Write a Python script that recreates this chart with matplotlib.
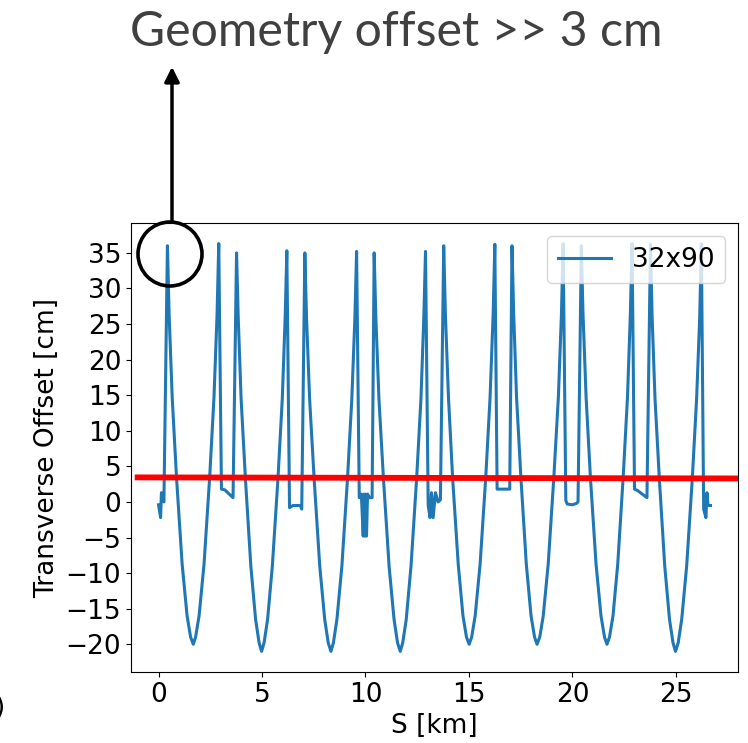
import numpy as np
import matplotlib
matplotlib.use('Agg')
import matplotlib.pyplot as plt
from matplotlib.patches import Ellipse

plt.rcParams['font.family'] = ['DejaVu Sans']

# transverse offset along the ring (S in km, offset in cm)
s_km = [0.00, 0.10, 0.14, 0.26,
        0.43, 0.51, 0.66, 0.87, 1.14, 1.38, 1.55, 1.68,
        1.79, 1.96, 2.20, 2.47, 2.68, 2.83, 2.91,
        3.04, 3.20, 3.60,
        3.77, 3.85, 3.99, 4.20, 4.46, 4.69, 4.86, 4.98,
        5.10, 5.27, 5.50, 5.77, 5.98, 6.12, 6.20,
        6.33, 6.50, 6.85, 6.92,
        7.07, 7.15, 7.30, 7.52, 7.79, 8.03, 8.20, 8.33,
        8.45, 8.62, 8.86, 9.13, 9.34, 9.49, 9.57,
        9.70, 9.80, 9.89, 9.93, 9.97, 10.01, 10.05, 10.10, 10.20, 10.32,
        10.42, 10.50, 10.65, 10.87, 11.14, 11.38, 11.55, 11.68,
        11.80, 11.97, 12.20, 12.47, 12.68, 12.82, 12.90,
        13.03, 13.12, 13.19, 13.27, 13.38, 13.51, 13.62,
        13.78, 13.86, 14.01, 14.21, 14.48, 14.71, 14.88, 15.01,
        15.13, 15.30, 15.54, 15.81, 16.02, 16.17, 16.25,
        16.36, 16.97,
        17.08, 17.16, 17.30, 17.51, 17.77, 18.00, 18.17, 18.29,
        18.42, 18.59, 18.83, 19.10, 19.32, 19.47, 19.55,
        19.68, 19.75, 20.00, 20.20, 20.27,
        20.43, 20.51, 20.66, 20.87, 21.14, 21.38, 21.55, 21.67,
        21.79, 21.96, 22.19, 22.45, 22.66, 22.80, 22.88,
        23.00, 23.15, 23.60,
        23.77, 23.85, 23.99, 24.20, 24.46, 24.69, 24.86, 24.98,
        25.11, 25.28, 25.52, 25.79, 26.00, 26.15, 26.23,
        26.34, 26.45, 26.50, 26.55, 26.67]
offset_cm = [-0.4, -2.2, 1.3, 0.0,
             36.0, 26.5, 14.7, 3.4, -8.7, -16.0, -19.0, -20.0,
             -19.0, -16.0, -8.7, 3.4, 14.7, 26.5, 36.3,
             1.8, 1.7, 0.6,
             35.0, 26.0, 14.5, 3.2, -9.0, -16.5, -19.8, -21.0,
             -19.8, -16.5, -9.0, 3.2, 14.5, 26.0, 35.3,
             -0.8, -0.5, -0.5, -1.0,
             35.0, 26.0, 14.5, 3.2, -9.0, -16.5, -19.8, -21.0,
             -19.8, -16.5, -9.0, 3.2, 14.5, 26.0, 35.2,
             0.6, 1.1, -4.8, 1.1, -4.8, 1.1, -4.8, 1.1, 0.6, 0.6,
             35.0, 26.0, 14.5, 3.2, -9.0, -16.5, -19.8, -21.0,
             -19.8, -16.5, -9.0, 3.2, 14.5, 26.0, 35.2,
             -0.5, -2.2, 1.3, -2.2, 1.3, 0.0, 0.3,
             36.0, 26.5, 14.7, 3.4, -8.7, -16.0, -19.0, -20.0,
             -19.0, -16.0, -8.7, 3.4, 14.7, 26.5, 36.2,
             1.8, 1.8,
             36.0, 26.5, 14.7, 3.4, -8.7, -16.0, -19.0, -20.0,
             -19.0, -16.0, -8.7, 3.4, 14.7, 26.5, 36.3,
             0.2, -0.3, -0.4, -0.2, 0.0,
             36.0, 26.5, 14.7, 3.4, -8.7, -16.0, -19.0, -20.0,
             -19.0, -16.0, -8.7, 3.4, 14.7, 26.5, 36.3,
             1.8, 1.6, 0.6,
             36.2, 26.0, 14.5, 3.2, -9.0, -16.5, -19.8, -21.0,
             -19.8, -16.5, -9.0, 3.2, 14.5, 26.0, 36.3,
             -1.0, -2.2, 1.3, -0.5, -0.5]

# the 3 cm threshold drawn over the plot (slightly tilted in the picture)
thr_s = [-1.15, 28.0]
thr_y = [3.45, 3.3]

W, H = 748, 743
fig = plt.figure(figsize=(W / 100, H / 100), dpi=100)
ax = fig.add_axes([131 / W, 1 - 672 / H, (738 - 131) / W, (672 - 223) / H])

ax.plot(s_km, offset_cm, color='#1f77b4', lw=2.2, label='32x90')
ax.plot(thr_s, thr_y, color='red', lw=4.2, solid_capstyle='butt', clip_on=False, zorder=5)

ax.set_xlim(-1.33, 28.0)
ax.set_ylim(-23.9, 39.2)
ax.set_yticks(np.arange(-20, 36, 5))
ax.set_xticks([0, 5, 10, 15, 20, 25])
ax.tick_params(labelsize=19)
ax.set_xlabel('S [km]', fontsize=19)
ax.set_ylabel('Transverse Offset [cm]', fontsize=19)
ax.legend(loc='upper right', fontsize=19)

# annotation: circle around first peak, arrow up to the caption
fig.patches.append(Ellipse((170 / W, 1 - 254 / H), 64 / W, 64 / H, transform=fig.transFigure,
                           fill=False, lw=2.6, color='black', zorder=10))
ax.annotate('', xy=(172 / W, 1 - 64 / H), xytext=(172 / W, 1 - 225 / H),
            xycoords='figure fraction', textcoords='figure fraction',
            arrowprops=dict(arrowstyle='-|>', lw=2.5, color='black', mutation_scale=22))
fig.text(396 / W, 1 - 46 / H, 'Geometry offset >> 3 cm', fontsize=34.7, family='Lato',
         color='#404040', ha='center', va='baseline')
fig.text(5 / W, 1 - 708 / H, ')', fontsize=19, ha='right', va='center')

fig.savefig('out.png', dpi=100)
